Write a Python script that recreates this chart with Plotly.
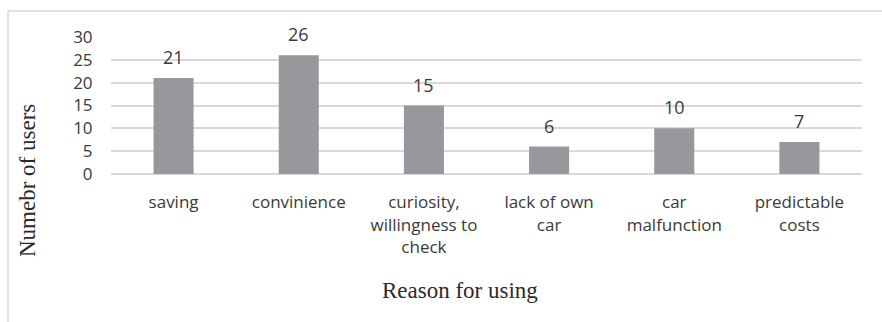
import plotly.graph_objects as go

categories = ["saving", "convinience", "curiosity,<br>willingness to<br>check",
              "lack of own<br>car", "car<br>malfunction", "predictable<br>costs"]
values = [21, 26, 15, 6, 10, 7]
y_ticks = [0, 5, 10, 15, 20, 25, 30]

bar_color = "#97989c"
grid_color = "#d9d9d9"
label_font = "Open Sans, Lato, sans-serif"
serif_font = "Liberation Serif, Times New Roman, serif"
text_color = "#3a3a3a"

fig = go.Figure()
fig.add_trace(go.Bar(x=categories, y=values, marker_color=bar_color,
                     marker_line_width=0, hoverinfo="skip"))

for c, v in zip(categories, values):
    fig.add_annotation(x=c, y=v, text=str(v), showarrow=False, yanchor="bottom",
                       yshift=7, font=dict(family=label_font, size=18, color=text_color))

fig.add_annotation(xref="paper", yref="paper", x=(460 - 111) / 751, y=(174 - 290) / 137,
                   text="Reason for using", showarrow=False, xanchor="center", yanchor="middle",
                   font=dict(family=serif_font, size=23, color="#2a2a2a"))
fig.add_annotation(xref="paper", yref="paper", x=(27 - 111) / 751, y=(174 - 181) / 137,
                   text="Numebr of users", showarrow=False, textangle=-90,
                   xanchor="center", yanchor="middle",
                   font=dict(family=serif_font, size=23, color="#2a2a2a"))

fig.add_shape(type="rect", xref="paper", yref="paper",
              x0=(8 - 111) / 751, x1=(895 - 111) / 751,
              y0=(174 - 340) / 137, y1=(174 - 11) / 137,
              line=dict(color=grid_color, width=1.5), fillcolor="rgba(0,0,0,0)", layer="below")

fig.update_layout(
    width=882, height=322,
    margin=dict(l=111, r=20, t=37, b=148),
    plot_bgcolor="white", paper_bgcolor="white",
    bargap=0.68, showlegend=False,
    xaxis=dict(showgrid=False, showline=False, ticks="outside", ticklen=13,
               tickcolor="rgba(0,0,0,0)",
               tickfont=dict(family=label_font, size=17, color=text_color)),
    yaxis=dict(range=[0, 30], tickvals=y_ticks, showgrid=True, gridcolor=grid_color,
               gridwidth=1.5, zeroline=True, zerolinecolor=grid_color, zerolinewidth=1.5,
               ticks="outside", ticklen=14, tickcolor="rgba(0,0,0,0)",
               tickfont=dict(family=label_font, size=17, color=text_color)),
)

fig.write_html("out.html")
